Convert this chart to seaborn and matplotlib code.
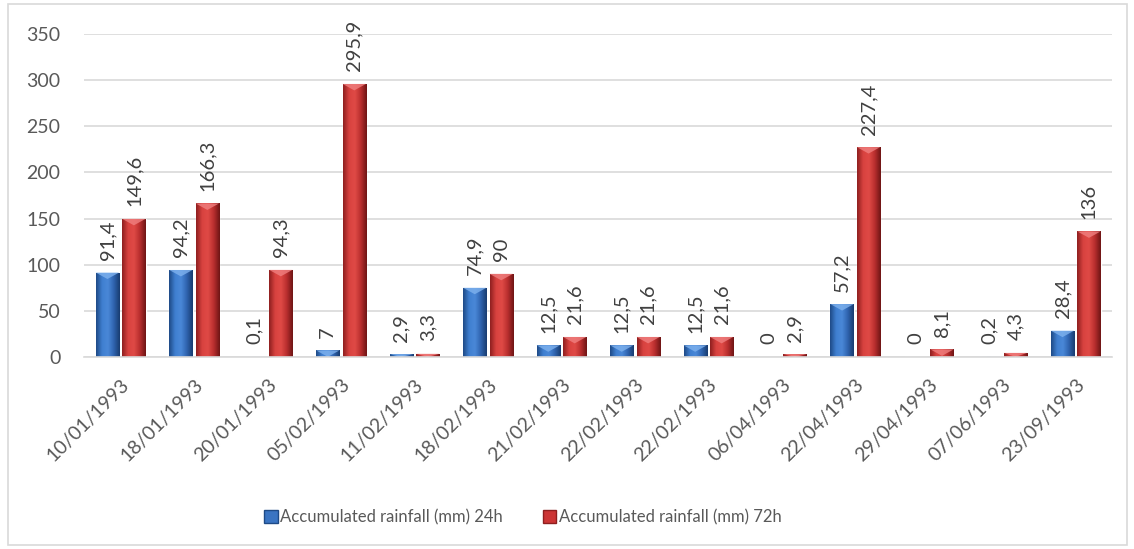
import numpy as np
import pandas as pd
import matplotlib
matplotlib.use("Agg")
import matplotlib.pyplot as plt
import seaborn as sns
from matplotlib.patches import Rectangle, Polygon
from matplotlib.colors import LinearSegmentedColormap

dates = ["10/01/1993", "18/01/1993", "20/01/1993", "05/02/1993", "11/02/1993",
         "18/02/1993", "21/02/1993", "22/02/1993", "22/02/1993", "06/04/1993",
         "22/04/1993", "29/04/1993", "07/06/1993", "23/09/1993"]
rain_24h = [91.4, 94.2, 0.1, 7, 2.9, 74.9, 12.5, 12.5, 12.5, 0, 57.2, 0, 0.2, 28.4]
rain_72h = [149.6, 166.3, 94.3, 295.9, 3.3, 90, 21.6, 21.6, 21.6, 2.9, 227.4, 8.1, 4.3, 136]
series_names = ["Accumulated rainfall (mm) 24h", "Accumulated rainfall (mm) 72h"]
yticks = [0, 50, 100, 150, 200, 250, 300, 350]

sns.set_theme(style="white")
plt.rcParams["font.family"] = ["Lato", "DejaVu Sans"]
text_grey = "#595959"

df = pd.DataFrame({
    "event": list(range(len(dates))) * 2,
    "value": rain_24h + rain_72h,
    "series": [series_names[0]] * len(dates) + [series_names[1]] * len(dates),
})

base_colors = {series_names[0]: "#3A74C2", series_names[1]: "#CC3535"}
grad_stops = {
    series_names[0]: ["#1E4A86", "#3F7FD0", "#4A88D8", "#2F63AE", "#183C70"],
    series_names[1]: ["#8E1F1F", "#D8423F", "#E04A46", "#B82E2E", "#6E1515"],
}
top_light = {series_names[0]: "#7FB2EE", series_names[1]: "#F08080"}

fig = plt.figure(figsize=(11.34, 5.49), dpi=100)
ax = fig.add_axes([0.074, 0.350, 0.907, 0.588])

sns.barplot(data=df, x="event", y="value", hue="series", palette=base_colors,
            width=0.72, gap=0.12, ax=ax, legend=False, saturation=1)

ax.set_ylim(0, 350)
ax.set_xlim(-0.5, len(dates) - 0.5)
ax.set_yticks(yticks)
ax.set_yticklabels([str(t) for t in yticks], fontsize=14, color=text_grey)
ax.set_xticks(range(len(dates)))
ax.set_xticklabels(dates, rotation=45, ha="right", rotation_mode="anchor",
                   fontsize=14, color=text_grey)
ax.tick_params(axis="y", length=0, pad=17)
ax.tick_params(axis="x", length=0, pad=14)
ax.grid(axis="y", color="#D9D9D9", linewidth=1.2)
ax.set_axisbelow(True)
for s in ["top", "right", "left"]:
    ax.spines[s].set_visible(False)
ax.spines["bottom"].set_color("#D9D9D9")
ax.spines["bottom"].set_linewidth(1.2)
ax.set_xlabel("")
ax.set_ylabel("")


def fmt(v):
    s = f"{v:g}"
    return s.replace(".", ",")


# Bevelled look: horizontal gradient clipped to each bar plus a light top chevron
for container, name, vals in zip(ax.containers, series_names, [rain_24h, rain_72h]):
    cmap = LinearSegmentedColormap.from_list(name, grad_stops[name])
    grad = np.linspace(0, 1, 64).reshape(1, -1)
    for patch, v in zip(container.patches, vals):
        x0, y0 = patch.get_x(), patch.get_y()
        w, h = patch.get_width(), patch.get_height()
        if h > 0:
            im = ax.imshow(grad, cmap=cmap, extent=(x0, x0 + w, y0, y0 + h),
                           aspect="auto", zorder=patch.get_zorder() + 0.1,
                           interpolation="bicubic")
            im.set_clip_path(patch)
            bev = min(h, 350 * 0.02)
            tri = Polygon([(x0, y0 + h), (x0 + w, y0 + h), (x0 + w / 2, y0 + h - bev)],
                          closed=True, facecolor=top_light[name], edgecolor="none",
                          alpha=0.8, zorder=patch.get_zorder() + 0.2)
            ax.add_patch(tri)
        ax.annotate(fmt(v), xy=(x0 + w / 2, y0 + h), xytext=(0, 9),
                    textcoords="offset points", rotation=90, ha="center", va="bottom",
                    fontsize=14.5, color="#404040", annotation_clip=False)

ax.set_xlim(-0.5, len(dates) - 0.5)
ax.set_ylim(0, 350)

handles = [Rectangle((0, 0), 1, 1, facecolor=base_colors[n], edgecolor=grad_stops[n][0])
           for n in series_names]
fig.legend(handles, series_names, loc="center", bbox_to_anchor=(0.461, 0.058), ncol=2,
           frameon=False, fontsize=12, handlelength=0.8, handleheight=0.8,
           handletextpad=0.15, columnspacing=2.4, labelcolor=text_grey)

fig.patches.append(Rectangle((0.007, 0.008), 0.987, 0.984, transform=fig.transFigure,
                             fill=False, edgecolor="#D9D9D9", linewidth=1.2))

fig.savefig("out.png", dpi=100, facecolor="white")
